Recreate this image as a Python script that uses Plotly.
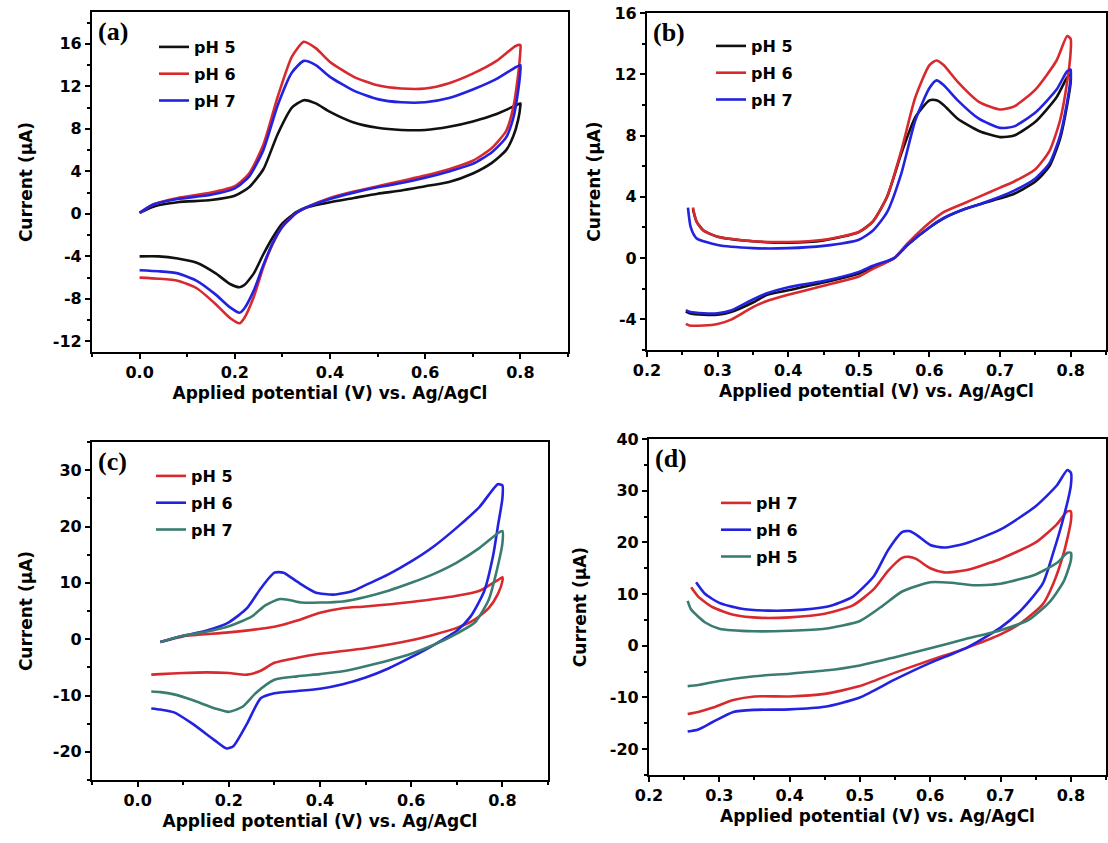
import plotly.graph_objects as go

# ---------------- DATA ----------------
# Panel (a)
a5_x = [0.0, 0.03, 0.08, 0.15, 0.2, 0.23, 0.26, 0.29, 0.32, 0.345, 0.37, 0.4, 0.45, 0.5, 0.55, 0.6, 0.65, 0.7, 0.75, 0.79, 0.8,
        0.8, 0.795, 0.785, 0.77, 0.74, 0.7, 0.65, 0.6, 0.55, 0.5, 0.45, 0.4, 0.35, 0.33, 0.3, 0.28, 0.26, 0.24, 0.22, 0.21, 0.19, 0.16, 0.12, 0.08, 0.04, 0.0]
a5_y = [0.1, 0.7, 1.1, 1.3, 1.7, 2.5, 4.2, 7.5, 10.0, 10.7, 10.4, 9.6, 8.6, 8.1, 7.9, 7.9, 8.2, 8.7, 9.4, 10.2, 10.4,
        10.2, 8.8, 7.3, 6.0, 4.8, 3.8, 3.0, 2.6, 2.2, 1.9, 1.5, 1.1, 0.6, 0.2, -0.9, -2.2, -3.8, -5.6, -6.7, -6.9, -6.6, -5.6, -4.6, -4.2, -4.0, -4.0]
a6_x = [0.0, 0.03, 0.08, 0.15, 0.2, 0.23, 0.26, 0.29, 0.32, 0.345, 0.37, 0.4, 0.45, 0.5, 0.55, 0.6, 0.65, 0.7, 0.75, 0.79, 0.8,
        0.8, 0.795, 0.785, 0.77, 0.74, 0.7, 0.65, 0.6, 0.55, 0.5, 0.45, 0.4, 0.35, 0.33, 0.3, 0.28, 0.26, 0.24, 0.22, 0.21, 0.19, 0.16, 0.12, 0.08, 0.04, 0.0]
a6_y = [0.1, 0.9, 1.5, 2.0, 2.6, 3.8, 6.5, 11.0, 14.8, 16.2, 15.6, 14.3, 12.9, 12.1, 11.8, 11.8, 12.3, 13.2, 14.4, 15.8, 15.9,
        15.4, 13.0, 10.0, 7.8, 6.2, 5.0, 4.2, 3.6, 3.1, 2.6, 2.1, 1.5, 0.6, 0.1, -1.2, -2.8, -5.0, -7.8, -9.8, -10.3, -9.8, -8.5, -7.0, -6.3, -6.1, -6.0]
a7_x = a6_x
a7_y = [0.1, 0.9, 1.4, 1.8, 2.4, 3.5, 6.0, 10.2, 13.3, 14.4, 14.0, 12.9, 11.6, 10.8, 10.5, 10.5, 10.9, 11.7, 12.7, 13.8, 14.0,
        13.5, 11.5, 9.0, 7.2, 5.8, 4.7, 4.0, 3.4, 2.9, 2.5, 2.0, 1.4, 0.6, 0.1, -1.2, -2.7, -4.8, -7.2, -8.9, -9.3, -8.8, -7.6, -6.3, -5.6, -5.4, -5.3]

# Panel (b)
b_fx = [0.265, 0.27, 0.28, 0.3, 0.35, 0.4, 0.45, 0.5, 0.52, 0.54, 0.56, 0.58, 0.6, 0.61, 0.62, 0.64, 0.67, 0.7, 0.72, 0.75, 0.78, 0.795, 0.8,
        0.8, 0.795, 0.785, 0.77, 0.75, 0.72, 0.7, 0.67, 0.65, 0.62, 0.6, 0.57, 0.55, 0.52, 0.5, 0.45, 0.4, 0.37, 0.35, 0.32, 0.3, 0.28, 0.26, 0.255]
b5_x = b_fx
b5_y = [3.2, 2.4, 1.8, 1.4, 1.1, 1.0, 1.15, 1.7, 2.4, 4.0, 6.8, 9.2, 10.3, 10.3, 10.0, 9.1, 8.3, 7.9, 8.0, 8.9, 10.5, 11.8, 12.0,
        11.5, 10.0, 7.8, 6.0, 5.0, 4.2, 3.9, 3.5, 3.2, 2.6, 2.0, 0.9, 0.0, -0.6, -1.0, -1.6, -2.1, -2.4, -2.9, -3.5, -3.7, -3.7, -3.6, -3.5]
b6_x = b_fx
b6_y = [3.3, 2.4, 1.8, 1.4, 1.1, 1.05, 1.2, 1.7, 2.4, 4.0, 7.0, 10.5, 12.6, 12.9, 12.6, 11.5, 10.2, 9.7, 9.9, 11.0, 12.9, 14.5, 14.3,
        13.5, 11.5, 9.0, 7.0, 5.8, 5.0, 4.6, 4.0, 3.6, 3.0, 2.3, 1.0, 0.0, -0.7, -1.2, -1.8, -2.4, -2.8, -3.2, -4.0, -4.3, -4.4, -4.4, -4.3]
b7_x = [0.258, 0.262, 0.27, 0.3, 0.35, 0.4, 0.45, 0.5, 0.52, 0.54, 0.56, 0.58, 0.6, 0.61, 0.62, 0.64, 0.67, 0.7, 0.72, 0.75, 0.78, 0.795, 0.8,
        0.8, 0.795, 0.785, 0.77, 0.75, 0.72, 0.7, 0.67, 0.65, 0.62, 0.6, 0.57, 0.55, 0.52, 0.5, 0.45, 0.4, 0.37, 0.35, 0.32, 0.3, 0.28, 0.26, 0.255]
b7_y = [3.3, 2.0, 1.3, 0.85, 0.65, 0.65, 0.8, 1.2, 1.8, 3.0, 5.5, 9.0, 11.1, 11.6, 11.3, 10.3, 9.1, 8.5, 8.6, 9.5, 11.0, 12.2, 12.3,
        11.8, 10.2, 8.0, 6.2, 5.2, 4.4, 4.0, 3.5, 3.2, 2.6, 2.0, 0.9, 0.0, -0.5, -0.9, -1.5, -1.9, -2.3, -2.7, -3.4, -3.6, -3.6, -3.5, -3.4]

# Panel (c)
c5_x = [0.05, 0.1, 0.2, 0.3, 0.35, 0.4, 0.45, 0.5, 0.6, 0.7, 0.75, 0.79, 0.8,
        0.8, 0.79, 0.77, 0.74, 0.7, 0.65, 0.6, 0.5, 0.4, 0.35, 0.3, 0.27, 0.24, 0.2, 0.15, 0.1, 0.05, 0.03]
c5_y = [-0.5, 0.5, 1.2, 2.2, 3.3, 4.7, 5.5, 5.8, 6.6, 7.7, 8.6, 10.5, 11.0,
        10.3, 8.0, 5.5, 3.5, 2.0, 0.8, -0.2, -1.6, -2.6, -3.3, -4.2, -5.6, -6.3, -6.0, -5.9, -6.0, -6.2, -6.3]
c6_x = [0.05, 0.1, 0.15, 0.2, 0.24, 0.27, 0.3, 0.32, 0.35, 0.39, 0.43, 0.47, 0.5, 0.55, 0.6, 0.65, 0.7, 0.75, 0.79, 0.8,
        0.8, 0.79, 0.78, 0.76, 0.73, 0.7, 0.65, 0.6, 0.55, 0.5, 0.45, 0.4, 0.35, 0.3, 0.27, 0.24, 0.21, 0.195, 0.17, 0.12, 0.08, 0.05, 0.03]
c6_y = [-0.5, 0.6, 1.5, 3.0, 5.5, 9.0, 11.8, 11.8, 10.2, 8.3, 7.9, 8.5, 9.6, 11.5, 13.8, 16.5, 19.8, 23.5, 27.5, 27.3,
        25.0, 20.0, 15.0, 8.5, 4.0, 1.5, -1.0, -3.2, -5.2, -6.8, -8.0, -8.8, -9.2, -9.6, -10.5, -15.0, -19.0, -19.4, -18.0, -15.0, -13.0, -12.5, -12.3]
c7_x = [0.05, 0.1, 0.15, 0.2, 0.25, 0.28, 0.31, 0.33, 0.36, 0.4, 0.45, 0.5, 0.55, 0.6, 0.65, 0.7, 0.75, 0.79, 0.8,
        0.8, 0.79, 0.77, 0.74, 0.7, 0.65, 0.6, 0.55, 0.5, 0.45, 0.4, 0.35, 0.3, 0.26, 0.23, 0.2, 0.17, 0.12, 0.08, 0.05, 0.03]
c7_y = [-0.5, 0.6, 1.3, 2.3, 4.0, 6.0, 7.1, 7.0, 6.5, 6.5, 6.7, 7.5, 8.6, 10.0, 11.6, 13.6, 16.2, 18.8, 19.2,
        17.0, 13.0, 7.0, 3.0, 1.0, -1.0, -2.6, -3.8, -4.8, -5.7, -6.2, -6.6, -7.2, -9.5, -12.0, -12.9, -12.3, -10.8, -9.8, -9.4, -9.3]

# Panel (d)
d6_x = [0.267, 0.28, 0.3, 0.33, 0.37, 0.42, 0.46, 0.49, 0.52, 0.54, 0.56, 0.57, 0.58, 0.6, 0.62, 0.65, 0.7, 0.75, 0.78, 0.795, 0.8,
        0.8, 0.79, 0.775, 0.76, 0.73, 0.7, 0.65, 0.6, 0.55, 0.5, 0.45, 0.4, 0.35, 0.32, 0.29, 0.27, 0.255]
d6_y = [12.3, 10.0, 8.3, 7.2, 6.8, 7.0, 7.8, 9.5, 13.5, 18.5, 22.0, 22.2, 21.5, 19.5, 19.0, 19.8, 22.5, 27.0, 31.0, 34.0, 33.5,
        31.0, 25.0, 18.0, 12.0, 7.0, 3.5, -0.5, -3.3, -6.5, -10.0, -11.8, -12.3, -12.4, -12.8, -14.8, -16.2, -16.6]
d7_x = [0.26, 0.27, 0.29, 0.32, 0.36, 0.4, 0.45, 0.49, 0.52, 0.54, 0.56, 0.57, 0.58, 0.6, 0.62, 0.65, 0.7, 0.75, 0.78, 0.795, 0.8,
        0.8, 0.79, 0.775, 0.76, 0.73, 0.7, 0.65, 0.6, 0.55, 0.5, 0.45, 0.4, 0.35, 0.32, 0.29, 0.27, 0.255]
d7_y = [11.3, 9.5, 7.5, 6.0, 5.4, 5.5, 6.2, 7.8, 11.0, 14.5, 17.0, 17.2, 16.8, 15.0, 14.2, 14.6, 16.8, 20.0, 23.5, 26.0, 26.0,
        24.0, 18.0, 12.0, 8.0, 4.5, 2.2, -0.5, -2.8, -5.2, -7.8, -9.3, -9.8, -9.8, -10.5, -12.0, -12.8, -13.2]
d5_x = [0.255, 0.26, 0.28, 0.3, 0.35, 0.4, 0.45, 0.5, 0.53, 0.56, 0.6, 0.63, 0.66, 0.7, 0.75, 0.78, 0.795, 0.8,
        0.8, 0.79, 0.77, 0.74, 0.7, 0.65, 0.6, 0.55, 0.5, 0.45, 0.4, 0.35, 0.3, 0.27, 0.255]
d5_y = [8.7, 7.0, 4.5, 3.3, 2.8, 2.9, 3.3, 4.8, 7.5, 10.5, 12.3, 12.2, 11.7, 12.0, 13.8, 16.0, 18.0, 18.0,
        16.5, 12.5, 8.5, 5.0, 3.0, 1.3, -0.5, -2.2, -3.8, -4.8, -5.4, -5.9, -6.8, -7.6, -7.8]

# Tick labels
a_xt = [0.0, 0.2, 0.4, 0.6, 0.8]
a_xl = ["0.0", "0.2", "0.4", "0.6", "0.8"]
a_yt = [-12, -8, -4, 0, 4, 8, 12, 16]
a_yl = ["-12", "-8", "-4", "0", "4", "8", "12", "16"]
b_xt = [0.2, 0.3, 0.4, 0.5, 0.6, 0.7, 0.8]
b_xl = ["0.2", "0.3", "0.4", "0.5", "0.6", "0.7", "0.8"]
b_yt = [-4, 0, 4, 8, 12, 16]
b_yl = ["-4", "0", "4", "8", "12", "16"]
c_xt = a_xt
c_xl = a_xl
c_yt = [-20, -10, 0, 10, 20, 30]
c_yl = ["-20", "-10", "0", "10", "20", "30"]
d_xt = b_xt
d_xl = b_xl
d_yt = [-20, -10, 0, 10, 20, 30, 40]
d_yl = ["-20", "-10", "0", "10", "20", "30", "40"]

BLACK = "#111111"
RED = "#d82a2e"
BLUE = "#2222e0"
GREEN = "#3a7d70"

SANS = "DejaVu Sans, Arial, sans-serif"
SERIF = "Liberation Serif, Times New Roman, serif"

fig = go.Figure()

def add(x, y, name, color, xa, ya, leg):
    fig.add_trace(go.Scatter(x=x, y=y, mode="lines", name="<b>" + name + "</b>", legend=leg, legendgroup=leg + name,
                             line=dict(color=color, width=2.6, shape="spline", smoothing=0.6),
                             xaxis=xa, yaxis=ya))

add(a5_x, a5_y, "pH 5", BLACK, "x", "y", "legend")
add(a6_x, a6_y, "pH 6", RED, "x", "y", "legend")
add(a7_x, a7_y, "pH 7", BLUE, "x", "y", "legend")
add(b5_x, b5_y, "pH 5", BLACK, "x2", "y2", "legend2")
add(b6_x, b6_y, "pH 6", RED, "x2", "y2", "legend2")
add(b7_x, b7_y, "pH 7", BLUE, "x2", "y2", "legend2")
add(c5_x, c5_y, "pH 5", RED, "x3", "y3", "legend3")
add(c6_x, c6_y, "pH 6", BLUE, "x3", "y3", "legend3")
add(c7_x, c7_y, "pH 7", GREEN, "x3", "y3", "legend3")
add(d7_x, d7_y, "pH 7", RED, "x4", "y4", "legend4")
add(d6_x, d6_y, "pH 6", BLUE, "x4", "y4", "legend4")
add(d5_x, d5_y, "pH 5", GREEN, "x4", "y4", "legend4")

tickfont = dict(family=SANS, size=16, color="black")
titlefont = dict(family=SANS, size=17, color="black")

def axis(domain, rng, tv, tt, mdt, anchor, title, standoff):
    return dict(domain=domain, range=rng, anchor=anchor, tickmode="array", tickvals=tv,
                ticktext=["<b>" + t + "</b>" for t in tt],
                ticks="outside", ticklen=5, tickwidth=2, tickcolor="black",
                showline=True, linewidth=2.2, linecolor="black", mirror=True,
                showgrid=False, zeroline=False, tickfont=tickfont, automargin=False,
                minor=dict(ticks="outside", ticklen=3, tickwidth=1.5, tickcolor="black",
                           tickmode="linear", tick0=0, dtick=mdt, showgrid=False),
                title=dict(text="<b>" + title + "</b>", font=titlefont, standoff=standoff))

XT = "Applied potential (V) vs. Ag/AgCl"
YT = "Current (μA)"

W, H = 1108, 843
def dx(p0, p1):
    return [p0 / W, p1 / W]
def dy(top, bottom):
    return [1 - bottom / H, 1 - top / H]

legbase = dict(bgcolor="rgba(0,0,0,0)", borderwidth=0, font=dict(family=SANS, size=16, color="black"),
               xanchor="left", yanchor="top", tracegroupgap=3, itemwidth=30)

fig.update_layout(
    width=W, height=H, margin=dict(l=0, r=0, t=0, b=0),
    paper_bgcolor="white", plot_bgcolor="white", showlegend=True,
    xaxis=axis(dx(92, 568), [-0.1, 0.9], a_xt, a_xl, 0.1, "y", XT, 6),
    yaxis=axis(dy(12, 352), [-13, 19], a_yt, a_yl, 2, "x", YT, 16),
    xaxis2=axis(dx(647, 1106), [0.2, 0.85], b_xt, b_xl, 0.05, "y2", XT, 6),
    yaxis2=axis(dy(13, 350), [-6, 16], b_yt, b_yl, 2, "x2", YT, 9),
    xaxis3=axis(dx(92, 548), [-0.1, 0.9], c_xt, c_xl, 0.1, "y3", XT, 6),
    yaxis3=axis(dy(442, 780), [-25, 35], c_yt, c_yl, 5, "x3", YT, 16),
    xaxis4=axis(dx(649, 1106), [0.2, 0.85], d_xt, d_xl, 0.05, "y4", XT, 6),
    yaxis4=axis(dy(439, 775), [-25, 40], d_yt, d_yl, 5, "x4", YT, 19),
    legend=dict(legbase, x=154 / W, y=1 - 30 / H),
    legend2=dict(legbase, x=711 / W, y=1 - 29 / H),
    legend3=dict(legbase, x=151 / W, y=1 - 459 / H),
    legend4=dict(legbase, x=716 / W, y=1 - 486 / H),
)

for lab, xa, ya in [("(a)", "x", "y"), ("(b)", "x2", "y2"), ("(c)", "x3", "y3"), ("(d)", "x4", "y4")]:
    fig.add_annotation(text="<b>" + lab + "</b>", xref=xa + " domain", yref=ya + " domain", x=0.008, y=0.99,
                       xanchor="left", yanchor="top", showarrow=False,
                       font=dict(family=SERIF, size=26, color="black"))

fig.write_html("out.html")
